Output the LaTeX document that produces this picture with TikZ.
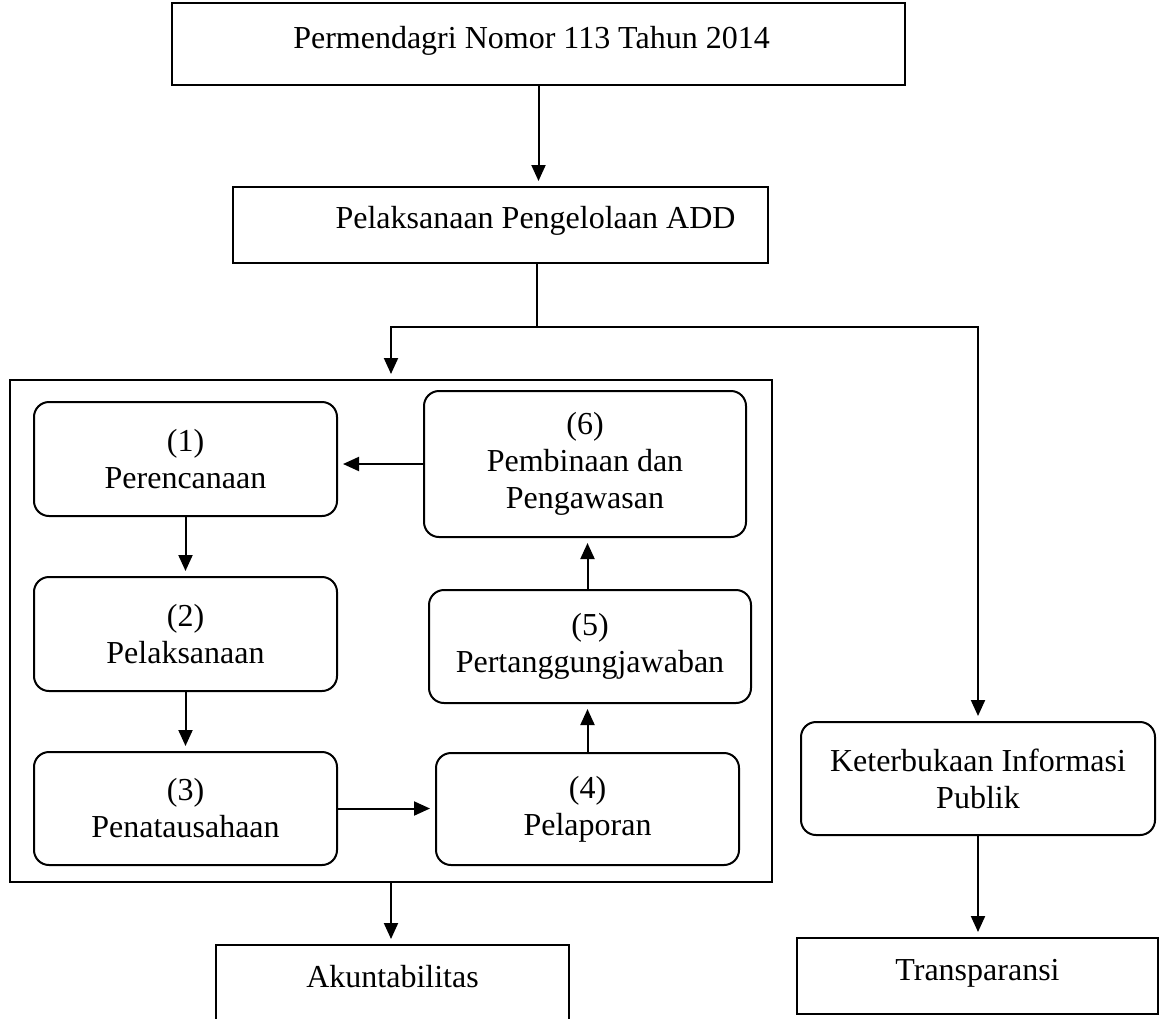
\documentclass[tikz,border=0pt]{standalone}
\usepackage{fontspec}
\setmainfont{Liberation Serif}
\usetikzlibrary{arrows.meta}
\begin{document}
\begin{tikzpicture}[x=0.5pt,y=-0.5pt,
  every node/.style={font=\fontsize{16}{18.5}\selectfont},
  sqbox/.style={draw, line width=1pt, rectangle, inner sep=0pt},
  rbox/.style={draw, line width=1pt, rounded corners=7.5pt, align=center, inner sep=0pt},
  arr/.style={line width=1pt, -{Triangle[length=8pt,width=7pt]}, shorten >=2.5pt},
  conn/.style={line width=1pt}]
\useasboundingbox (0,0) rectangle (1160,1018);

% top boxes
\node[sqbox, minimum width=366.5pt, text height=22.5pt, text depth=18.5pt] (perm) at (538.5,44) {Permendagri Nomor 113 Tahun 2014\hspace*{7pt}};
\node[sqbox, minimum width=267.5pt, text height=20.5pt, text depth=17.5pt] (add) at (500.5,225) {\hspace*{35pt}Pelaksanaan Pengelolaan ADD};

% big frame
\node[sqbox, minimum width=381pt, minimum height=251pt] (big) at (391,631) {};

% process boxes
\node[rbox, minimum width=151.5pt, minimum height=57pt] (b1) at (185.5,459) {(1)\\Perencanaan};
\node[rbox, minimum width=151.5pt, minimum height=57pt] (b2) at (185.5,634) {(2)\\Pelaksanaan};
\node[rbox, minimum width=151.5pt, minimum height=56.5pt] (b3) at (185.5,808.5) {(3)\\Penatausahaan};
\node[rbox, minimum width=151.5pt, minimum height=56pt] (b4) at (587.5,809) {(4)\\Pelaporan};
\node[rbox, minimum width=161pt, minimum height=56.5pt] (b5) at (590,646.5) {(5)\\Pertanggungjawaban};
\node[rbox, minimum width=161pt, minimum height=73pt] (b6) at (585,464) {(6)\\Pembinaan dan\\Pengawasan};

% right column
\node[rbox, minimum width=177pt, minimum height=56.5pt] (ker) at (978,778.5) {Keterbukaan Informasi\\Publik};
\node[sqbox, minimum width=180.5pt, text height=21pt, text depth=17pt] (trans) at (977.5,976) {Transparansi};
\node[sqbox, minimum width=176.5pt, text height=21pt, text depth=29pt] (akun) at (392.5,995) {Akuntabilitas};

% connectors
\coordinate (split) at (537,327);
\draw[arr] (perm.south) -- (perm.south |- add.north);
\draw[conn] (split |- add.south) -- (split);
\draw[arr] (split) -| (big.north);
\draw[arr] (split) -| (ker.north);

\draw[arr] (b6.west) -- (b6.west -| b1.east);
\draw[arr] (b1.south) -- (b2.north);
\draw[arr] (b2.south) -- (b3.north);
\draw[arr] (b3.east) -- (b3.east -| b4.west);
\draw[arr] (b4.north) -- (b4.north |- b5.south);
\draw[arr] (b4.north |- b5.north) -- (b4.north |- b6.south);

\draw[arr] (big.south) -- (big.south |- akun.north);
\draw[arr] (ker.south) -- (ker.south |- trans.north);
\end{tikzpicture}
\end{document}
